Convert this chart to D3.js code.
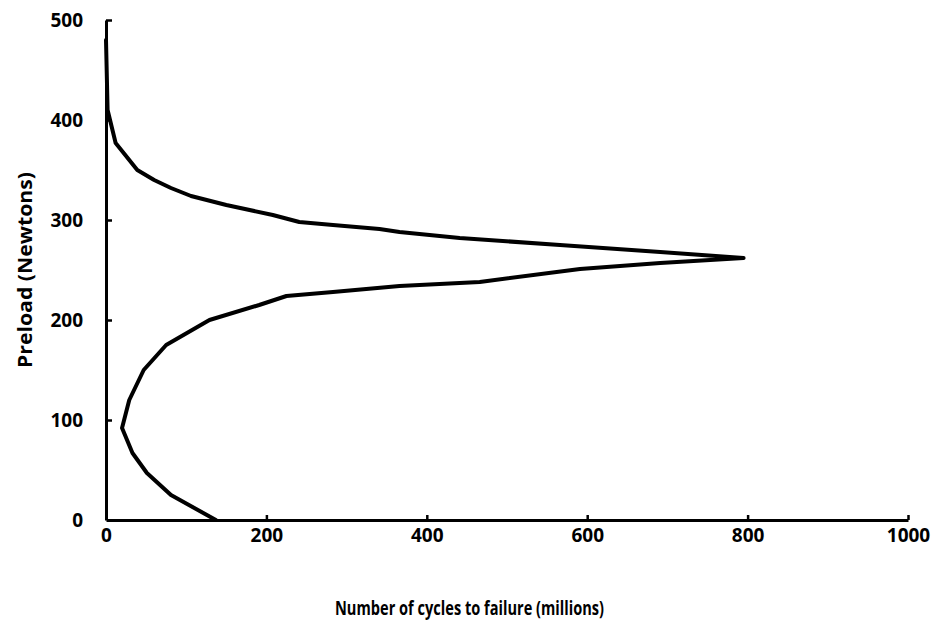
<!DOCTYPE html>
<html>
<head>
<meta charset="utf-8">
<script src="https://cdn.jsdelivr.net/npm/d3@7"></script>
<style>
  html, body { margin: 0; padding: 0; background: #fff; }
  svg { display: block; }
  text { font-family: "Open Sans", "DejaVu Sans", sans-serif; font-weight: 700; fill: #000; }
</style>
</head>
<body>
<svg id="chart" width="940" height="626"></svg>
<script>
// Fatigue life versus preload, traced from the upper branch down through the peak to the lower branch
const cycles  = [0, 2, 12, 39, 60, 81, 106, 150, 208, 241, 283, 341, 366, 441, 566, 691, 795,
                 691, 591, 466, 366, 283, 225, 191, 129, 75, 47, 29, 20, 33, 51, 81, 137];
const preload = [480, 410, 377, 350, 340, 332, 324, 315, 305, 298, 295, 291, 288, 282, 275, 268, 262,
                 257, 251, 238, 234, 228, 224, 215, 200, 175, 150, 120, 92, 67, 47, 25, 0];

const xTicks = [0, 200, 400, 600, 800, 1000];
const yTicks = [0, 100, 200, 300, 400, 500];
const xTitle = "Number of cycles to failure (millions)";
const yTitle = "Preload (Newtons)";

const svg = d3.select("#chart");

const x = d3.scaleLinear().domain([0, 1000]).range([106, 908]);
const y = d3.scaleLinear().domain([0, 500]).range([520, 20]);

// Axes with inward ticks
const xAxis = d3.axisBottom(x).tickValues(xTicks).tickFormat(d3.format("d"))
  .tickSize(-5).tickSizeOuter(0).tickPadding(9);
const yAxis = d3.axisLeft(y).tickValues(yTicks).tickFormat(d3.format("d"))
  .tickSize(-6).tickSizeOuter(0).tickPadding(23);

const gx = svg.append("g").attr("transform", `translate(0,${y(0)})`).call(xAxis);
const gy = svg.append("g").attr("transform", `translate(${x(0)},0)`).call(yAxis);

[gx, gy].forEach(g => {
  g.select(".domain").attr("stroke", "#000").attr("stroke-width", 3);
  g.selectAll(".tick line").attr("stroke", "#000").attr("stroke-width", 2.5);
  g.selectAll(".tick text")
    .attr("font-family", "'Open Sans', 'DejaVu Sans', sans-serif")
    .attr("font-weight", 700)
    .attr("font-size", 19)
    .attr("fill", "#000");
});
gx.selectAll(".tick").filter(d => d === 0).select("line").remove();
gy.selectAll(".tick").filter(d => d === 0).select("line").remove();

// Performance curve
const line = d3.line()
  .x((d, i) => x(cycles[i]))
  .y((d, i) => y(preload[i]));

svg.append("path")
  .datum(cycles)
  .attr("d", line)
  .attr("fill", "none")
  .attr("stroke", "#000")
  .attr("stroke-width", 4)
  .attr("stroke-linejoin", "round")
  .attr("stroke-linecap", "round");

// Axis titles
svg.append("text")
  .attr("x", 335)
  .attr("y", 615)
  .attr("font-size", 19)
  .attr("font-weight", 700)
  .attr("textLength", 269)
  .attr("lengthAdjust", "spacingAndGlyphs")
  .text(xTitle);

svg.append("text")
  .attr("transform", "translate(32,368) rotate(-90)")
  .attr("font-size", 19)
  .attr("font-weight", 700)
  .attr("textLength", 196)
  .attr("lengthAdjust", "spacingAndGlyphs")
  .text(yTitle);
</script>
</body>
</html>
